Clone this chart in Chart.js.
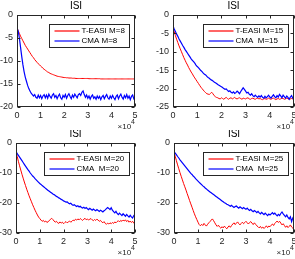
<!DOCTYPE html>
<html><head><meta charset="utf-8">
<script src="https://cdn.jsdelivr.net/npm/chart.js@4/dist/chart.umd.min.js"></script>
<style>
html,body{margin:0;padding:0;background:#fff;width:295px;height:259px;overflow:hidden}
canvas{position:absolute}
</style></head><body>
<canvas id="c0"></canvas><canvas id="c1"></canvas><canvas id="c2"></canvas><canvas id="c3"></canvas>
<script>
// x axis: iterations in units of 1e4, samples spread evenly over 0..5
const xTickValues = [0, 1, 2, 3, 4, 5];
const titles = ['ISI', 'ISI', 'ISI', 'ISI'];
const redLabels = ['T-EASI M=8', 'T-EASI M=15', 'T-EASI M=20', 'T-EASI M=25'];
const blueLabels = ['CMA M=8', 'CMA  M=15', 'CMA  M=20', 'CMA  M=25'];
const yMins = [-20, -25, -30, -30];
const yMaxs = [0, 0, 0, 0];
const ySteps = [5, 5, 10, 10];

const teasi8 = [-2.8,-3.4,-4.0,-4.6,-5.1,-5.6,-6.1,-6.6,-7.0,-7.4,-7.8,-8.2,-8.6,-9.0,-9.3,-9.7,-10.0,-10.3,-10.6,-10.8,-11.1,-11.3,-11.6,-11.8,-12.0,-12.2,-12.4,-12.5,-12.7,-12.8,-12.9,-13.0,-13.1,-13.2,-13.3,-13.35,-13.4,-13.45,-13.5,-13.55,-13.6,-13.6,-13.65,-13.65,-13.7,-13.7,-13.7,-13.75,-13.75,-13.75,-13.8,-13.8,-13.8,-13.8,-13.8,-13.8,-13.8,-13.8,-13.8,-13.8,-13.8,-13.85,-13.85,-13.85,-13.85,-13.85,-13.85,-13.85,-13.85,-13.85,-13.85,-13.9,-13.9,-13.9,-13.9,-13.9,-13.9,-13.9,-13.9,-13.9,-13.9,-13.9,-13.9,-13.9,-13.9,-13.9,-13.9,-13.9,-13.9,-13.9,-13.9,-13.9,-13.9,-13.9,-13.9,-13.9,-13.9,-13.9,-13.9,-13.9,-13.9];
const cma8 = [-2.8,-3.5,-5.0,-7.0,-9.0,-10.8,-12.3,-13.5,-14.4,-15.3,-16.0,-16.5,-17.0,-17.3,-17.6,-17.3,-17.9,-18.1,-17.4,-18.0,-17.5,-18.2,-17.6,-17.3,-18.0,-17.4,-18.1,-17.2,-17.7,-18.1,-17.4,-17.1,-17.9,-17.5,-18.2,-17.6,-17.2,-18.0,-18.3,-17.5,-17.9,-17.3,-18.1,-17.5,-17.1,-17.7,-18.2,-17.4,-17.9,-17.2,-17.6,-18.0,-17.3,-17.1,-17.5,-16.8,-16.5,-17.3,-17.9,-17.4,-18.1,-17.6,-18.3,-17.7,-17.4,-18.1,-17.8,-18.3,-17.6,-18.1,-17.7,-18.4,-17.8,-17.5,-18.2,-17.7,-17.3,-18.0,-18.3,-17.6,-18.1,-17.5,-18.0,-18.4,-17.7,-17.4,-18.2,-17.6,-17.2,-17.9,-18.3,-17.5,-18.0,-17.3,-18.1,-17.6,-18.4,-17.7,-17.4,-18.2,-17.9];
const teasi15 = [-3.5,-4.5,-5.6,-6.6,-7.5,-8.4,-9.2,-10.0,-10.8,-11.6,-12.3,-13.0,-13.6,-14.3,-14.9,-15.5,-16.0,-16.6,-17.1,-17.6,-18.1,-18.6,-19.1,-19.6,-20.0,-20.4,-20.8,-21.1,-21.4,-21.5,-21.6,-21.3,-21.0,-21.4,-21.9,-22.2,-22.4,-22.5,-22.7,-22.8,-22.5,-22.7,-22.9,-22.6,-22.4,-22.7,-22.9,-22.6,-22.5,-22.8,-22.6,-22.4,-22.7,-22.8,-22.6,-22.5,-22.7,-22.9,-22.6,-22.7,-22.8,-22.6,-22.5,-22.8,-22.9,-22.7,-22.6,-22.8,-22.9,-22.7,-22.6,-22.8,-22.7,-22.9,-23.0,-22.8,-22.7,-22.9,-22.8,-22.6,-22.8,-22.9,-22.7,-22.6,-22.8,-23.0,-22.8,-22.7,-22.9,-22.8,-22.6,-22.7,-22.9,-22.8,-22.6,-22.7,-22.9,-22.8,-22.7,-22.8,-22.7];
const cma15 = [-3.0,-3.8,-4.5,-5.2,-5.8,-6.5,-7.1,-7.7,-8.3,-8.8,-9.4,-9.9,-10.4,-10.9,-11.4,-11.9,-12.3,-12.7,-13.1,-13.6,-14.0,-14.3,-14.7,-15.1,-15.4,-15.8,-16.1,-16.3,-16.7,-17.0,-17.2,-17.5,-17.7,-17.9,-18.2,-18.4,-18.6,-18.9,-19.1,-19.3,-19.5,-19.7,-20.0,-20.2,-20.1,-20.5,-20.8,-20.6,-21.0,-21.2,-20.9,-21.3,-21.1,-20.7,-21.0,-21.4,-20.8,-20.3,-19.8,-20.2,-20.7,-21.2,-21.0,-21.5,-21.8,-21.4,-21.9,-22.2,-21.8,-22.1,-22.4,-22.0,-22.3,-21.9,-22.4,-22.6,-22.1,-22.5,-22.2,-21.8,-22.3,-22.6,-22.1,-21.7,-22.2,-22.5,-21.9,-22.3,-21.6,-22.0,-22.5,-21.8,-22.2,-22.6,-22.0,-22.4,-22.9,-22.3,-21.9,-22.6,-22.2];
const teasi20 = [-2.9,-4.5,-6.1,-7.6,-9.0,-10.4,-11.7,-13.0,-14.2,-15.4,-16.5,-17.6,-18.6,-19.6,-20.6,-21.5,-22.4,-23.2,-24.0,-24.7,-25.2,-25.7,-26.1,-25.8,-26.3,-26.0,-26.5,-26.2,-25.9,-25.4,-25.1,-25.5,-26.0,-26.4,-26.1,-26.6,-26.8,-26.3,-26.7,-26.4,-26.9,-26.5,-26.2,-26.6,-26.3,-26.0,-26.4,-26.1,-25.7,-25.9,-25.4,-25.7,-25.3,-25.6,-25.2,-25.5,-25.8,-25.4,-25.1,-25.6,-25.3,-25.7,-25.4,-25.2,-25.6,-25.9,-25.5,-25.8,-25.4,-25.7,-26.1,-25.8,-26.3,-26.6,-26.2,-26.8,-27.1,-26.7,-27.0,-26.6,-26.9,-26.5,-26.8,-26.3,-26.6,-26.2,-25.9,-26.3,-25.8,-26.1,-25.7,-26.0,-25.6,-26.2,-25.8,-26.4,-26.0,-26.5,-26.1,-26.7,-26.4];
const cma20 = [-2.9,-3.5,-4.1,-4.7,-5.3,-5.9,-6.5,-7.1,-7.7,-8.3,-8.9,-9.4,-10.0,-10.5,-11.0,-11.4,-11.9,-12.3,-12.7,-13.1,-13.5,-13.8,-14.2,-14.5,-14.8,-15.2,-15.5,-15.8,-16.1,-16.4,-16.7,-17.0,-17.2,-17.5,-17.8,-18.0,-18.3,-18.5,-18.8,-19.0,-19.3,-19.5,-19.7,-19.6,-20.0,-20.3,-20.1,-20.5,-20.8,-20.6,-20.9,-21.2,-20.9,-21.3,-21.1,-21.5,-21.7,-21.4,-21.8,-21.5,-21.9,-22.2,-21.8,-22.1,-22.4,-22.0,-22.3,-22.6,-22.2,-22.5,-22.8,-22.4,-22.7,-23.0,-22.6,-22.3,-21.9,-21.5,-21.8,-22.2,-21.6,-22.4,-22.9,-23.3,-22.8,-23.5,-23.9,-23.4,-23.8,-24.2,-23.6,-24.0,-24.4,-23.8,-24.3,-24.7,-24.1,-24.6,-25.0,-24.2,-23.8];
const teasi25 = [-2.9,-4.4,-5.9,-7.3,-8.6,-9.9,-11.1,-12.3,-13.5,-14.6,-15.7,-16.9,-18.0,-19.2,-20.3,-21.4,-22.5,-23.6,-24.6,-25.5,-26.4,-27.2,-27.6,-27.1,-27.5,-26.8,-27.3,-27.7,-27.1,-26.6,-26.2,-25.7,-25.3,-25.9,-26.6,-27.3,-27.8,-27.4,-28.0,-28.4,-27.9,-28.3,-27.7,-28.2,-28.6,-28.0,-27.6,-28.1,-27.5,-27.0,-26.6,-27.2,-26.7,-26.3,-26.9,-27.3,-26.8,-26.4,-26.9,-26.5,-26.1,-26.6,-27.0,-26.5,-26.2,-26.7,-27.2,-26.6,-27.1,-27.6,-27.9,-28.3,-27.8,-28.4,-28.0,-28.5,-28.1,-27.6,-28.2,-27.7,-27.9,-27.4,-27.0,-27.5,-26.8,-26.4,-26.0,-26.5,-26.1,-26.7,-27.3,-26.9,-27.5,-28.1,-27.6,-28.2,-27.8,-27.3,-28.0,-28.4,-27.8];
const cma25 = [-2.9,-3.4,-3.9,-4.5,-5.0,-5.6,-6.1,-6.6,-7.1,-7.6,-8.1,-8.6,-9.1,-9.6,-10.1,-10.5,-11.0,-11.4,-11.9,-12.3,-12.7,-13.1,-13.5,-13.9,-14.3,-14.6,-15.0,-15.3,-15.7,-16.0,-16.3,-16.6,-16.9,-17.2,-17.5,-17.8,-18.1,-18.4,-18.7,-19.0,-19.3,-19.6,-19.9,-20.1,-20.4,-20.6,-20.8,-21.1,-20.8,-21.2,-21.5,-21.2,-21.0,-21.4,-21.7,-21.3,-21.6,-21.9,-21.5,-21.8,-22.1,-21.7,-22.2,-22.5,-22.1,-22.6,-22.9,-22.5,-22.8,-23.2,-22.8,-23.3,-23.6,-23.1,-23.5,-23.9,-23.4,-23.8,-24.2,-23.7,-24.0,-23.6,-23.2,-23.7,-23.4,-23.9,-24.3,-23.8,-24.2,-23.5,-23.0,-23.6,-24.1,-24.6,-24.0,-24.8,-25.3,-24.6,-26.2,-25.0,-24.3];

const redSeries = [teasi8, teasi15, teasi20, teasi25];
const blueSeries = [cma8, cma15, cma20, cma25];
const RED = '#ff0000', BLUE = '#0000ff';

const frames = [
  {l:0,   t:0,   w:147, h:130, ya:17, xa:23, pt:15, pr:12},
  {l:147, t:0,   w:148, h:130, ya:26, xa:23, pt:15, pr:1},
  {l:0,   t:130, w:147, h:129, ya:16, xa:26, pt:13, pr:12},
  {l:147, t:130, w:148, h:129, ya:27, xa:26, pt:13, pr:1}
];

const FONT = '"Liberation Sans", Arial, sans-serif';
const AX = '#262626';

const toXY = arr => arr.map((v, i) => ({x: i * 5 / (arr.length - 1), y: v}));

const matlabPlugin = {
  id: 'matlab',
  afterDraw(chart, args, opts) {
    const {ctx, chartArea: a, scales: {x, y}} = chart;
    ctx.save();
    ctx.strokeStyle = AX; ctx.lineWidth = 1;
    const L = Math.round(a.left) + 0.5, R = Math.round(a.right) - 0.5;
    const T = Math.round(a.top) + 0.5, B = Math.round(a.bottom) - 0.5;
    ctx.strokeRect(L, T, R - L, B - T);
    ctx.beginPath();
    x.ticks.forEach(t => {
      const px = Math.round(x.getPixelForValue(t.value)) + 0.5;
      ctx.moveTo(px, B); ctx.lineTo(px, B - 3);
      ctx.moveTo(px, T); ctx.lineTo(px, T + 3);
    });
    y.ticks.forEach(t => {
      const py = Math.round(y.getPixelForValue(t.value)) + 0.5;
      ctx.moveTo(L, py); ctx.lineTo(L + 3, py);
      ctx.moveTo(R, py); ctx.lineTo(R - 3, py);
    });
    ctx.stroke();
    // title
    ctx.fillStyle = '#000';
    ctx.font = '10px ' + FONT;
    ctx.textAlign = 'center'; ctx.textBaseline = 'middle';
    ctx.fillText(opts.title, (a.left + a.right) / 2, a.top - 9);
    // exponent label
    ctx.fillStyle = AX;
    ctx.textAlign = 'right';
    ctx.font = '7px ' + FONT;
    ctx.fillText('4', a.right, a.bottom + 15);
    const w4 = ctx.measureText('4').width;
    ctx.font = '8px ' + FONT;
    ctx.fillText('\u00d710', a.right - w4, a.bottom + 20);
    // legend box
    const entries = [{label: opts.red, color: RED}, {label: opts.blue, color: BLUE}];
    ctx.font = '8px ' + FONT;
    const tw = Math.max(...entries.map(d => ctx.measureText(d.label).width));
    const bw = Math.round(5 + 25 + 2 + tw + 5), bh = 23;
    const bx = Math.round(a.right - 6 - bw) + 0.5, by = Math.round(a.top + 9) + 0.5;
    ctx.fillStyle = '#fff';
    ctx.fillRect(bx, by, bw, bh);
    ctx.strokeStyle = AX;
    ctx.strokeRect(bx, by, bw, bh);
    entries.forEach((d, i) => {
      const ry = Math.round(by + 6 + i * 10);
      ctx.strokeStyle = d.color;
      ctx.lineWidth = 1.2;
      ctx.beginPath(); ctx.moveTo(bx + 5, ry); ctx.lineTo(bx + 30, ry); ctx.stroke();
      ctx.fillStyle = '#000';
      ctx.textAlign = 'left'; ctx.textBaseline = 'middle';
      ctx.fillText(d.label, bx + 32, ry);
    });
    ctx.restore();
  }
};

frames.forEach((f, k) => {
  const cv = document.getElementById('c' + k);
  cv.width = f.w; cv.height = f.h;
  cv.style.left = f.l + 'px'; cv.style.top = f.t + 'px';
  cv.style.width = f.w + 'px'; cv.style.height = f.h + 'px';
  new Chart(cv, {
    type: 'line',
    data: {
      datasets: [
        {label: redLabels[k], data: toXY(redSeries[k]), borderColor: RED, borderWidth: 1, pointRadius: 0, tension: 0, order: 1},
        {label: blueLabels[k], data: toXY(blueSeries[k]), borderColor: BLUE, borderWidth: 1.2, pointRadius: 0, tension: 0, order: 0}
      ]
    },
    options: {
      responsive: false, animation: false, devicePixelRatio: 1,
      layout: {padding: {top: f.pt, right: f.pr, left: 0, bottom: 0}},
      plugins: {legend: {display: false}, tooltip: {enabled: false}, title: {display: false},
        matlab: {title: titles[k], red: redLabels[k], blue: blueLabels[k]}},
      scales: {
        x: {type: 'linear', min: xTickValues[0], max: xTickValues[xTickValues.length - 1],
          grid: {display: false, drawTicks: false}, border: {display: false},
          afterBuildTicks: s => { s.ticks = xTickValues.map(v => ({value: v})); },
          ticks: {autoSkip: false, maxRotation: 0, padding: 3, color: AX, font: {family: FONT, size: 9}},
          afterFit: s => { s.height = f.xa; s.paddingLeft = 0; s.paddingRight = 0; }},
        y: {type: 'linear', min: yMins[k], max: yMaxs[k],
          grid: {display: false, drawTicks: false}, border: {display: false},
          ticks: {stepSize: ySteps[k], autoSkip: false, padding: 4, color: AX, font: {family: FONT, size: 9}},
          afterFit: s => { s.width = f.ya; s.paddingTop = 0; s.paddingBottom = 0; }}
      }
    },
    plugins: [matlabPlugin]
  });
});
</script>
</body></html>
